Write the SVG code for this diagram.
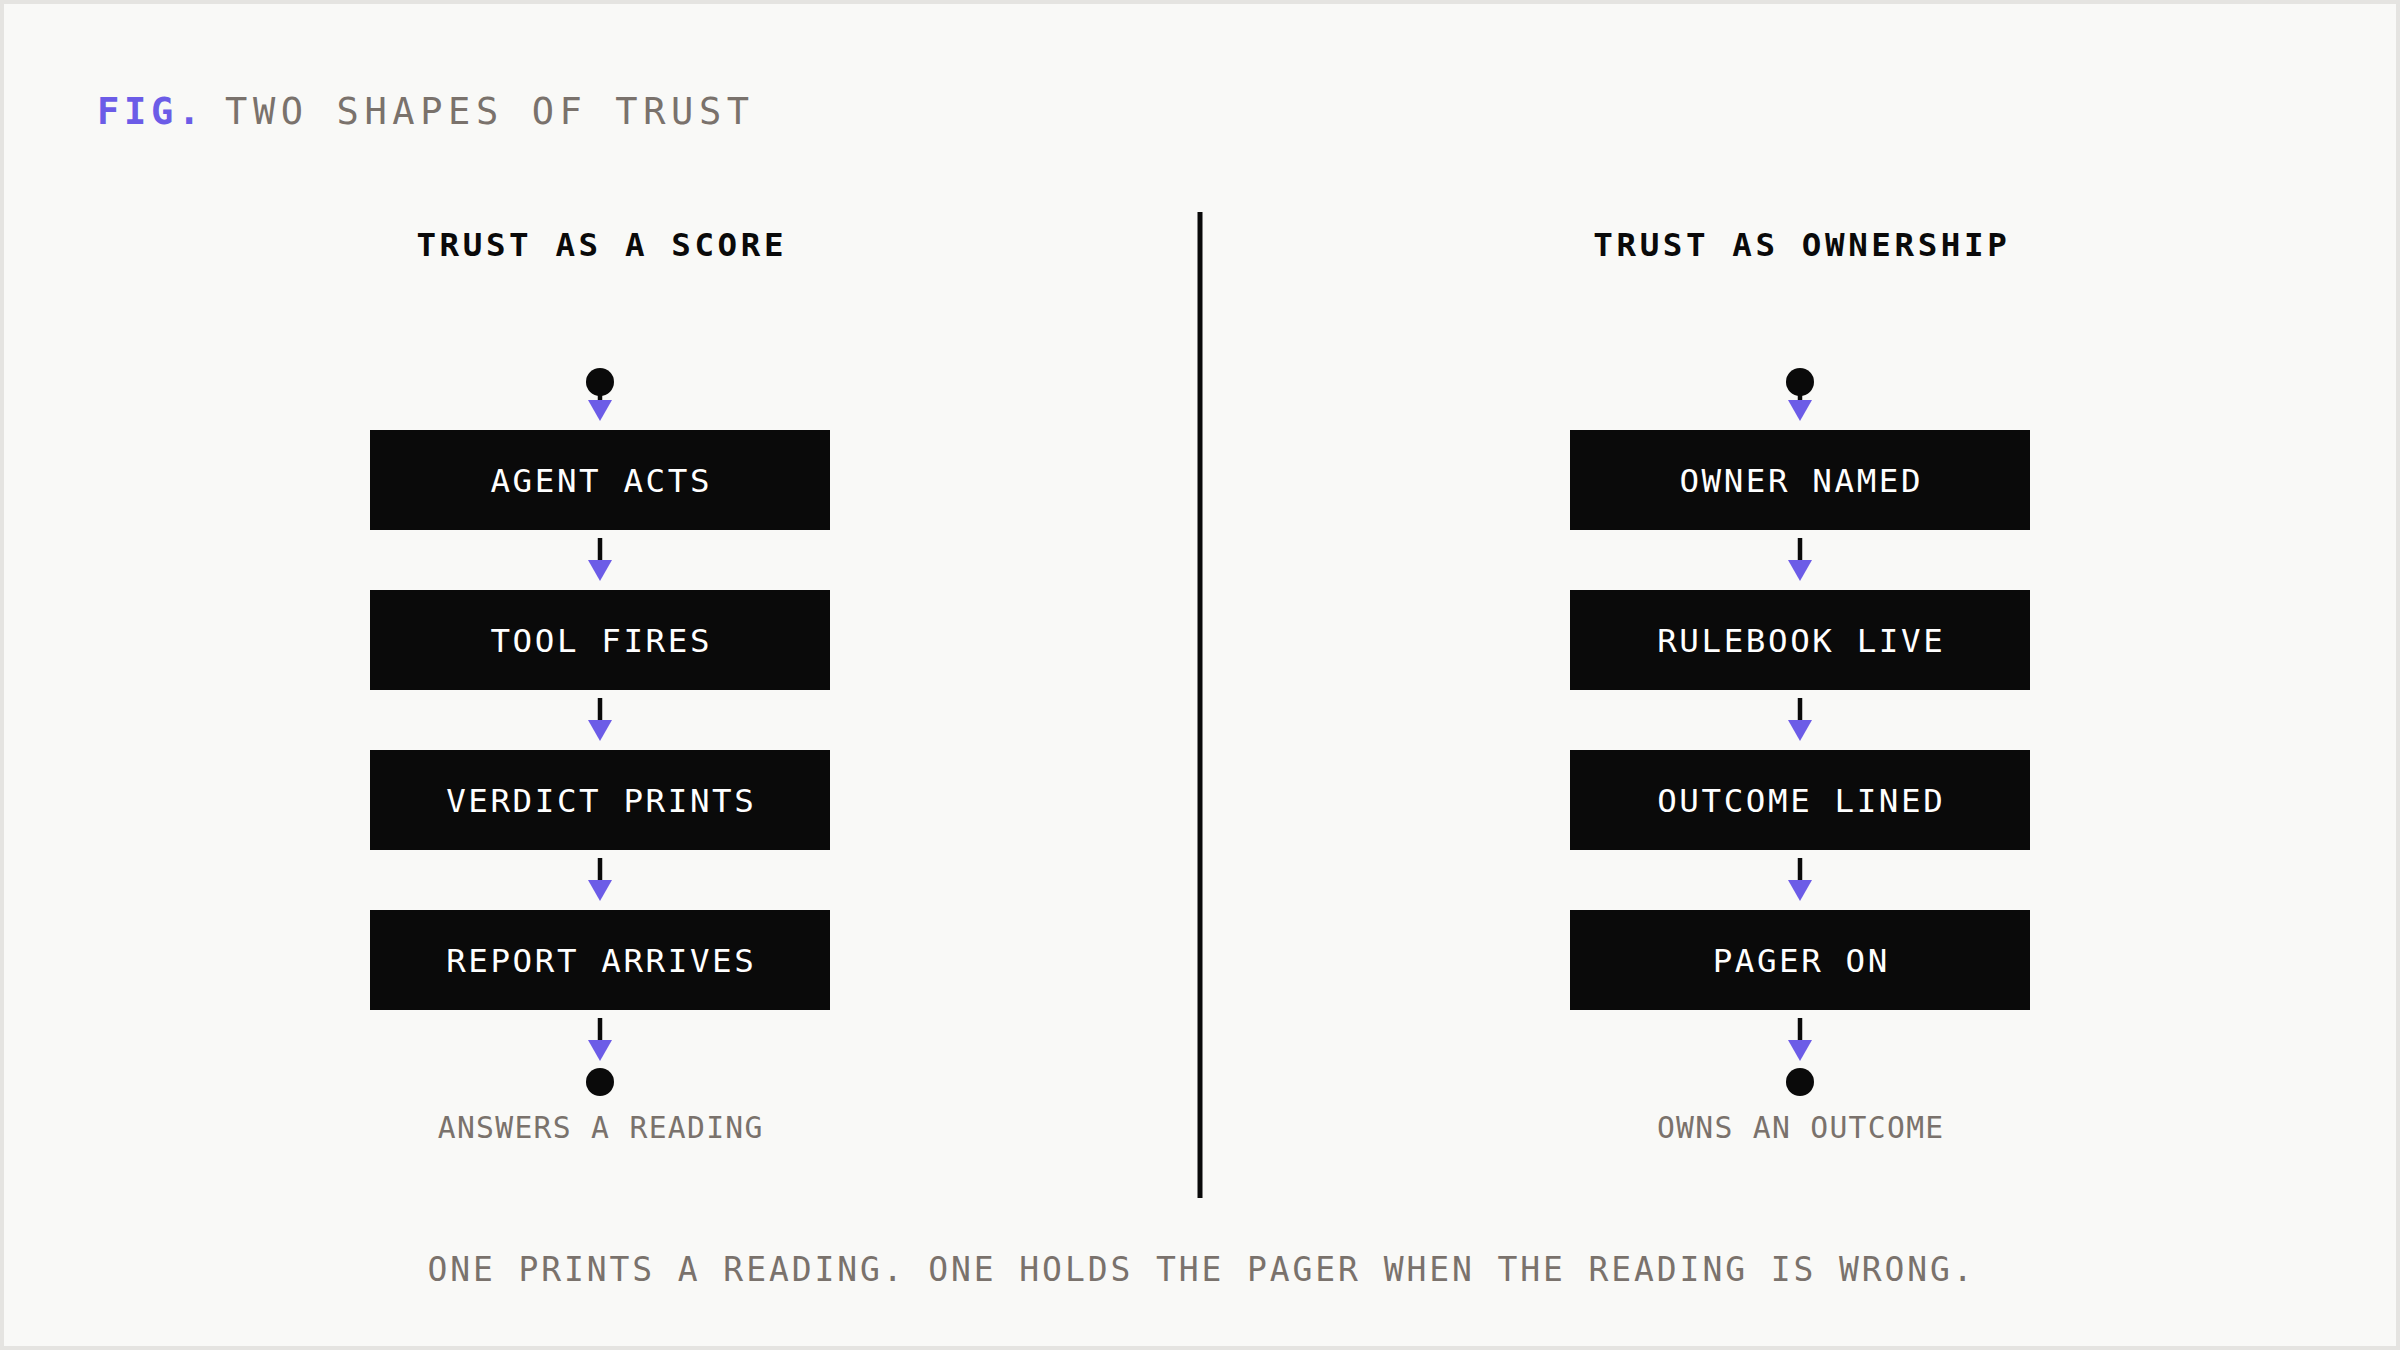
<svg xmlns="http://www.w3.org/2000/svg" width="2400" height="1350" viewBox="0 0 2400 1350">
  <style>
    .mono { font-family: "DejaVu Sans Mono", "Liberation Mono", monospace; }
    .title { font-size: 37px; letter-spacing: 5.6px; fill: #7a726c; }
    .fig { fill: #6c5ce7; font-weight: bold; letter-spacing: 4.7px; }
    .head { font-size: 32.5px; letter-spacing: 3.6px; font-weight: bold; fill: #0a0a0a; text-anchor: middle; }
    .box { fill: #0a0a0a; }
    .boxlabel { font-size: 32.5px; letter-spacing: 2.6px; fill: #ffffff; text-anchor: middle; }
    .dot { fill: #0a0a0a; }
    .caption { font-size: 29.7px; letter-spacing: 1.3px; fill: #7a726c; text-anchor: middle; }
    .footer { font-size: 33px; letter-spacing: 2.9px; fill: #7a726c; text-anchor: middle; }
    .conn { stroke: #0a0a0a; stroke-width: 4.5; fill: none; marker-end: url(#arrow); }
    .divider { stroke: #0a0a0a; stroke-width: 5; }
  </style>
  <defs>
    <marker id="arrow" markerUnits="userSpaceOnUse" markerWidth="21" markerHeight="24" refX="0" refY="12" orient="auto" viewBox="0 0 21 24">
      <path d="M0,0 L21,12 L0,24 Z" fill="#6c5ce7"/>
    </marker>
  </defs>

  <rect x="2" y="2" width="2396" height="1346" fill="#f9f9f7" stroke="#e5e4e1" stroke-width="4"/>

  <g id="title">
    <text class="mono title fig" x="97" y="124">FIG.</text>
    <text class="mono title" x="225" y="124">TWO SHAPES OF TRUST</text>
  </g>

  <g id="divider">
    <line class="divider" x1="1200" y1="212" x2="1200" y2="1198"/>
  </g>

  <g id="heading-score">
    <text class="mono head" x="601.8" y="256">TRUST AS A SCORE</text>
  </g>
  <g id="heading-ownership">
    <text class="mono head" x="1801.8" y="256">TRUST AS OWNERSHIP</text>
  </g>

  <g id="connectors">
    <line class="conn" x1="600" y1="395" x2="600" y2="400"/>
    <line class="conn" x1="600" y1="538" x2="600" y2="560"/>
    <line class="conn" x1="600" y1="698" x2="600" y2="720"/>
    <line class="conn" x1="600" y1="858" x2="600" y2="880"/>
    <line class="conn" x1="600" y1="1018" x2="600" y2="1040"/>
    <line class="conn" x1="1800" y1="395" x2="1800" y2="400"/>
    <line class="conn" x1="1800" y1="538" x2="1800" y2="560"/>
    <line class="conn" x1="1800" y1="698" x2="1800" y2="720"/>
    <line class="conn" x1="1800" y1="858" x2="1800" y2="880"/>
    <line class="conn" x1="1800" y1="1018" x2="1800" y2="1040"/>
  </g>

  <g id="score-start"><circle class="dot" cx="600" cy="382" r="14"/></g>
  <g id="agent-acts">
    <rect class="box" x="370" y="430" width="460" height="100"/>
    <text class="mono boxlabel" x="601.3" y="492">AGENT ACTS</text>
  </g>
  <g id="tool-fires">
    <rect class="box" x="370" y="590" width="460" height="100"/>
    <text class="mono boxlabel" x="601.3" y="652">TOOL FIRES</text>
  </g>
  <g id="verdict-prints">
    <rect class="box" x="370" y="750" width="460" height="100"/>
    <text class="mono boxlabel" x="601.3" y="812">VERDICT PRINTS</text>
  </g>
  <g id="report-arrives">
    <rect class="box" x="370" y="910" width="460" height="100"/>
    <text class="mono boxlabel" x="601.3" y="972">REPORT ARRIVES</text>
  </g>
  <g id="score-end">
    <circle class="dot" cx="600" cy="1082" r="14"/>
    <text class="mono caption" x="600.7" y="1138">ANSWERS A READING</text>
  </g>

  <g id="owner-start"><circle class="dot" cx="1800" cy="382" r="14"/></g>
  <g id="owner-named">
    <rect class="box" x="1570" y="430" width="460" height="100"/>
    <text class="mono boxlabel" x="1801.3" y="492">OWNER NAMED</text>
  </g>
  <g id="rulebook-live">
    <rect class="box" x="1570" y="590" width="460" height="100"/>
    <text class="mono boxlabel" x="1801.3" y="652">RULEBOOK LIVE</text>
  </g>
  <g id="outcome-lined">
    <rect class="box" x="1570" y="750" width="460" height="100"/>
    <text class="mono boxlabel" x="1801.3" y="812">OUTCOME LINED</text>
  </g>
  <g id="pager-on">
    <rect class="box" x="1570" y="910" width="460" height="100"/>
    <text class="mono boxlabel" x="1801.3" y="972">PAGER ON</text>
  </g>
  <g id="owner-end">
    <circle class="dot" cx="1800" cy="1082" r="14"/>
    <text class="mono caption" x="1800.7" y="1138">OWNS AN OUTCOME</text>
  </g>

  <g id="footer">
    <text class="mono footer" x="1201.5" y="1281">ONE PRINTS A READING. ONE HOLDS THE PAGER WHEN THE READING IS WRONG.</text>
  </g>
</svg>
